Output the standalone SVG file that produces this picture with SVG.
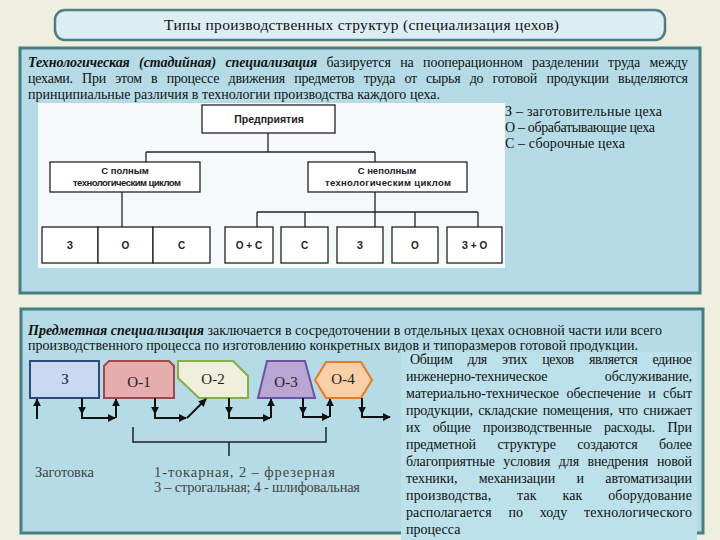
<svg xmlns="http://www.w3.org/2000/svg" width="720" height="540" viewBox="0 0 720 540">
<defs>
<style>
.panel{fill:#b5dce6;stroke:#467f82;stroke-width:3}
.t{font-family:"Liberation Serif","DejaVu Serif",serif;font-size:14px;fill:#111}
.bi{font-weight:bold;font-style:italic}
.ob{fill:#fff;stroke:#222;stroke-width:1.3}
.ol{fill:none;stroke:#222;stroke-width:1.3}
.os{font-family:"Liberation Sans","DejaVu Sans",sans-serif;font-weight:bold;font-size:10px;fill:#222;text-anchor:middle}
.lbl{font-family:"Liberation Serif","DejaVu Serif",serif;font-size:15px;fill:#222;text-anchor:middle}
.ar{fill:none;stroke:#111;stroke-width:2;marker-end:url(#ah)}
.br{fill:none;stroke:#222;stroke-width:1.5}
.cap{font-family:"Liberation Serif","DejaVu Serif",serif;font-size:14.5px;fill:#444}
.sm{font-size:9.5px}
</style>
<marker id="ah" viewBox="0 0 10 10" refX="9" refY="5" markerWidth="8" markerHeight="8" markerUnits="userSpaceOnUse" orient="auto"><path d="M0,0 L10,5 L0,10 z" fill="#111"/></marker>
</defs>
<rect width="720" height="540" fill="#efefdf"/>

<g id="title">
<rect x="55" y="10" width="610" height="30" rx="10" fill="#dcedf3" stroke="#4a7f85" stroke-width="2.5"/>
<text class="t" x="164" y="30" style="font-size:15.5px" textLength="395">Типы производственных структур (специализация цехов)</text>
</g>

<g id="panel1">
<rect class="panel" x="20" y="48" width="680" height="245"/>
<text class="t" x="28" y="67" textLength="660" style="word-spacing:6px"><tspan class="bi">Технологическая (стадийная) специализация</tspan> базируется на пооперационном разделении труда между</text>
<text class="t" x="28" y="83" textLength="660" style="word-spacing:6px">цехами. При этом в процессе движения предметов труда от сырья до готовой продукции выделяются</text>
<text class="t" x="28" y="99" textLength="412">принципиальные различия в технологии производства каждого цеха.</text>
<rect x="38" y="103" width="467" height="165" fill="#f5f9f9"/>
<text class="t" x="505" y="116" textLength="157">З – заготовительные цеха</text>
<text class="t" x="505" y="132" textLength="150">О – обрабатывающие цеха</text>
<text class="t" x="505" y="148" textLength="120">С – сборочные цеха</text>
</g>

<g id="org-lines">
<path class="ol" d="M268,133 V152 M146,152 H375 M146,152 V162 M375,152 V162 M122,192 V227 M375,192 V227 M257,212 H478 M257,212 V227 M305,212 V227 M415,212 V227 M478,212 V227"/>
</g>
<g id="n-predpr"><rect class="ob" x="202" y="105" width="133" height="28"/><text class="os" x="269" y="123" style="font-size:10.5px">Предприятия</text></g>
<g id="n-full"><rect class="ob" x="50" y="162" width="150" height="30"/><text class="os sm" x="125" y="174">С полным</text><text class="os sm" x="127" y="186" textLength="108">технологическим циклом</text></g>
<g id="n-part"><rect class="ob" x="308" y="162" width="159" height="30"/><text class="os sm" x="387" y="174">С неполным</text><text class="os sm" x="388" y="186" textLength="126">технологическим циклом</text></g>
<g id="n-b1"><rect class="ob" x="42" y="227" width="56" height="36"/><text class="os" x="70" y="249">З</text></g>
<g id="n-b2"><rect class="ob" x="98" y="227" width="55" height="36"/><text class="os" x="125.5" y="249">О</text></g>
<g id="n-b3"><rect class="ob" x="153" y="227" width="57" height="36"/><text class="os" x="181.5" y="249">С</text></g>
<g id="n-b4"><rect class="ob" x="225" y="227" width="48" height="36"/><text class="os" x="249" y="249">О + С</text></g>
<g id="n-b5"><rect class="ob" x="281" y="227" width="47" height="36"/><text class="os" x="304.5" y="249">С</text></g>
<g id="n-b6"><rect class="ob" x="337" y="227" width="46" height="36"/><text class="os" x="360" y="249">З</text></g>
<g id="n-b7"><rect class="ob" x="392" y="227" width="46" height="36"/><text class="os" x="415" y="249">О</text></g>
<g id="n-b8"><rect class="ob" x="447" y="227" width="55" height="36"/><text class="os" x="474.5" y="249">З + О</text></g>

<g id="panel2">
<rect class="panel" x="21" y="309" width="682" height="224"/>
<text class="t" x="28" y="335" textLength="634"><tspan class="bi">Предметная специализация</tspan> заключается в сосредоточении в отдельных цехах основной части или всего</text>
<text class="t" x="28" y="350" textLength="610">производственного процесса по изготовлению конкретных видов и типоразмеров готовой продукции.</text>
<rect x="401" y="352" width="296" height="188" fill="#bce1ea"/>
<text class="t" x="410" y="364" textLength="282" style="word-spacing:12px">Общим для этих цехов является единое</text>
<text class="t" x="406" y="381" textLength="286" style="word-spacing:54px">инженерно-техническое обслуживание,</text>
<text class="t" x="406" y="398" textLength="286" style="word-spacing:4px">материально-техническое обеспечение и сбыт</text>
<text class="t" x="406" y="415" textLength="286" style="word-spacing:2px">продукции, складские помещения, что снижает</text>
<text class="t" x="406" y="432" textLength="286" style="word-spacing:9px">их общие производственные расходы. При</text>
<text class="t" x="406" y="449" textLength="286" style="word-spacing:18px">предметной структуре создаются более</text>
<text class="t" x="406" y="466" textLength="286" style="word-spacing:5px">благоприятные условия для внедрения новой</text>
<text class="t" x="406" y="483" textLength="286" style="word-spacing:18px">техники, механизации и автоматизации</text>
<text class="t" x="406" y="500" textLength="286" style="word-spacing:22px">производства, так как оборудование</text>
<text class="t" x="406" y="517" textLength="286" style="word-spacing:13px">располагается по ходу технологического</text>
<text class="t" x="406" y="534">процесса</text>
</g>

<g id="s-z"><rect x="30" y="361" width="69" height="37" fill="#c9d9f2" stroke="#2c4a7c" stroke-width="2"/><text class="lbl" x="65" y="384">З</text></g>
<g id="s-o1"><path d="M104,398 V366 L109,361 H169 L174,366 V398 Z" fill="#e5adad" stroke="#a04848" stroke-width="2"/><text class="lbl" x="139" y="387">О-1</text></g>
<g id="s-o2"><path d="M178,361 H233 L248,376 V398 H199 L178,378 Z" fill="#eef0dc" stroke="#86ae48" stroke-width="2"/><text class="lbl" x="213" y="384">О-2</text></g>
<g id="s-o3"><path d="M267,361 H305 L315,398 H258 Z" fill="#b9a6d3" stroke="#6a55a5" stroke-width="2"/><text class="lbl" x="286" y="387">О-3</text></g>
<g id="s-o4"><path d="M315,380 L326,362 H361 L372,380 L361,398 H326 Z" fill="#f8cfa6" stroke="#e87b22" stroke-width="2"/><text class="lbl" x="343" y="384">О-4</text></g>

<g id="connectors">
<path class="ar" d="M37,419 V399"/>
<path class="ar" d="M82,398 V414"/>
<path class="ar" d="M82,413 V418 H115"/>
<path class="ar" d="M116,418 V399"/>
<path class="ar" d="M155,398 V414"/>
<path class="ar" d="M155,413 V418 H186"/>
<path class="ar" d="M187,418 L206,399"/>
<path class="ar" d="M229,398 V414"/>
<path class="ar" d="M229,413 V418 H270"/>
<path class="ar" d="M271,418 V399"/>
<path class="ar" d="M303,398 V414"/>
<path class="ar" d="M303,413 V417 H329"/>
<path class="ar" d="M330,417 V399"/>
<path class="ar" d="M362,398 V414"/>
<path class="ar" d="M362,413 V417 H390"/>
<path class="br" d="M133,427 V442 H326 V427 M229,442 V456"/>
</g>
<g id="captions">
<text class="cap" x="35" y="477" textLength="59">Заготовка</text>
<text class="cap" x="154" y="477" textLength="181">1-токарная, 2 – фрезерная</text>
<text class="cap" x="154" y="492" textLength="206">3 – строгальная;  4 - шлифовальная</text>
</g>
</svg>
